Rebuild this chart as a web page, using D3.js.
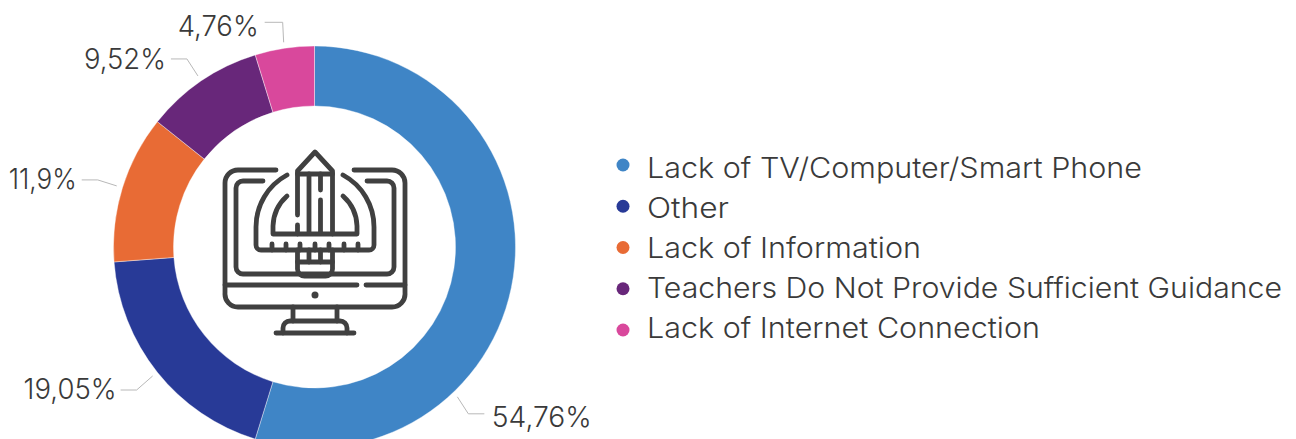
<!DOCTYPE html>
<html>
<head>
<meta charset="utf-8">
<script src="https://cdn.jsdelivr.net/npm/d3@7/dist/d3.min.js"></script>
<style>
  html, body { margin: 0; padding: 0; background: #fff; overflow: hidden; }
  svg { display: block; }
  text { font-family: Inter, "Open Sans", sans-serif; font-weight: 300; fill: #3a3a3a; }
</style>
</head>
<body>
<div id="container"></div>
<script>
const categories = [
  'Lack of TV/Computer/Smart Phone',
  'Other',
  'Lack of Information',
  'Teachers Do Not Provide Sufficient Guidance',
  'Lack of Internet Connection'
];
const shares = [54.76, 19.05, 11.9, 9.52, 4.76];
const shareLabels = ['54,76%', '19,05%', '11,9%', '9,52%', '4,76%'];
const colors = ['#3f85c6', '#283a97', '#e86b35', '#68277a', '#d9489c'];

const width = 1296;
const height = 439;
const cx = 314.5;
const cy = 247;
const outerR = 201;
const innerR = 141;

const svg = d3.select('#container')
  .append('svg')
  .attr('width', width)
  .attr('height', height);

const pie = d3.pie().value(d => d).sort(null);
const arcs = pie(shares);
const arc = d3.arc().innerRadius(innerR).outerRadius(outerR);

const donut = svg.append('g').attr('transform', `translate(${cx},${cy})`);

donut.selectAll('path')
  .data(arcs)
  .enter()
  .append('path')
  .attr('d', arc)
  .attr('fill', (d, i) => colors[i])
  .attr('stroke', '#fff')
  .attr('stroke-width', 0.4);

// Leaders: the first one sits away from the slice middle, the legend is in the way there
const leaderAngle = [2.38, null, null, null, null];
const elbow = [[11, 17, 16], [-16, 14, -16], [-19, -6, -16], [-11, -17, -16], [-1, -20, -18]];
const labelGap = [7.5, -4, -5, -5, -6];
const labelBase = [13, 9, 9, 10, 14];
const labelWidth = [100, 93, 68, 82, 81];

const leaders = svg.append('g');

arcs.forEach((d, i) => {
  const a = leaderAngle[i] !== null ? leaderAngle[i] : (d.startAngle + d.endAngle) / 2;
  const x0 = cx + Math.sin(a) * (outerR + 6);
  const y0 = cy - Math.cos(a) * (outerR + 6);
  const x1 = x0 + elbow[i][0];
  const y1 = y0 + elbow[i][1];
  const x2 = x1 + elbow[i][2];

  leaders.append('path')
    .attr('d', d3.line()([[x0, y0], [x1, y1], [x2, y1]]))
    .attr('fill', 'none')
    .attr('stroke', '#b8b8b8')
    .attr('stroke-width', 1);

  leaders.append('text')
    .attr('x', x2 + labelGap[i])
    .attr('y', y1 + labelBase[i])
    .attr('text-anchor', i === 0 ? 'start' : 'end')
    .attr('font-size', 28.5)
    .attr('textLength', labelWidth[i])
    .attr('lengthAdjust', 'spacingAndGlyphs')
    .text(shareLabels[i]);
});

// Legend: dots and text sit on slightly different rows in the original
const legendWidth = [495, 82, 274, 635, 393];
const legendDotY = d3.scalePoint().domain(categories).range([165, 330]);
const legendTextY = d3.scalePoint().domain(categories).range([178, 338]);

const legend = svg.selectAll('.legend')
  .data(categories)
  .enter()
  .append('g')
  .attr('class', 'legend');

legend.append('circle')
  .attr('cx', 623)
  .attr('cy', d => legendDotY(d))
  .attr('r', 6.5)
  .attr('fill', (d, i) => colors[i]);

legend.append('text')
  .attr('x', 647)
  .attr('y', d => legendTextY(d))
  .attr('font-size', 28)
  .attr('textLength', (d, i) => legendWidth[i])
  .attr('lengthAdjust', 'spacingAndGlyphs')
  .text(d => d);

// Centre icon: monitor with pencil and protractor
const iconPaths = [
  'M276,170H238A13,13 0 0 0 225,183V293A13,13 0 0 0 238,307H392A13,13 0 0 0 405,293V183A13,13 0 0 0 392,170H354',
  'M263,181H243A7,7 0 0 0 236,188V267A7,7 0 0 0 243,274H387A7,7 0 0 0 394,267V188A7,7 0 0 0 387,181H367',
  'M225,285H357', 'M366,285H405',
  'M293,307V321', 'M337,307V321',
  'M283,333V328A7,7 0 0 1 290,321H340A7,7 0 0 1 347,328V333',
  'M276,333H354',
  'M287,175A59,59 0 0 0 256,227V245A5,5 0 0 0 261,250H369A5,5 0 0 0 374,245V227A59,59 0 0 0 343,175',
  'M287,196A42,42 0 0 0 273,226V234H357V226A42,42 0 0 0 343,196',
  'M272,250V244', 'M286,250V244', 'M300,250V244', 'M315,250V244', 'M329,250V244', 'M344,250V244', 'M358,250V244',
  'M297.5,215V171L315,152L332.5,171V234',
  'M297.5,225V234',
  'M297.5,174H332.5',
  'M309,174V233', 'M320.5,174V190', 'M320.5,200V233',
  'M297.5,250V269A7,7 0 0 0 304.5,276H325.5A7,7 0 0 0 332.5,269V250',
  'M297.5,262H332.5',
  'M309,250V262', 'M320.5,250V262'
];

const icon = svg.append('g')
  .attr('fill', 'none')
  .attr('stroke', '#404040')
  .attr('stroke-width', 4.8)
  .attr('stroke-linecap', 'round')
  .attr('stroke-linejoin', 'round');

icon.selectAll('path')
  .data(iconPaths)
  .enter()
  .append('path')
  .attr('d', d => d);

svg.append('circle')
  .attr('cx', 315)
  .attr('cy', 295)
  .attr('r', 3.5)
  .attr('fill', '#404040');
</script>
</body>
</html>
